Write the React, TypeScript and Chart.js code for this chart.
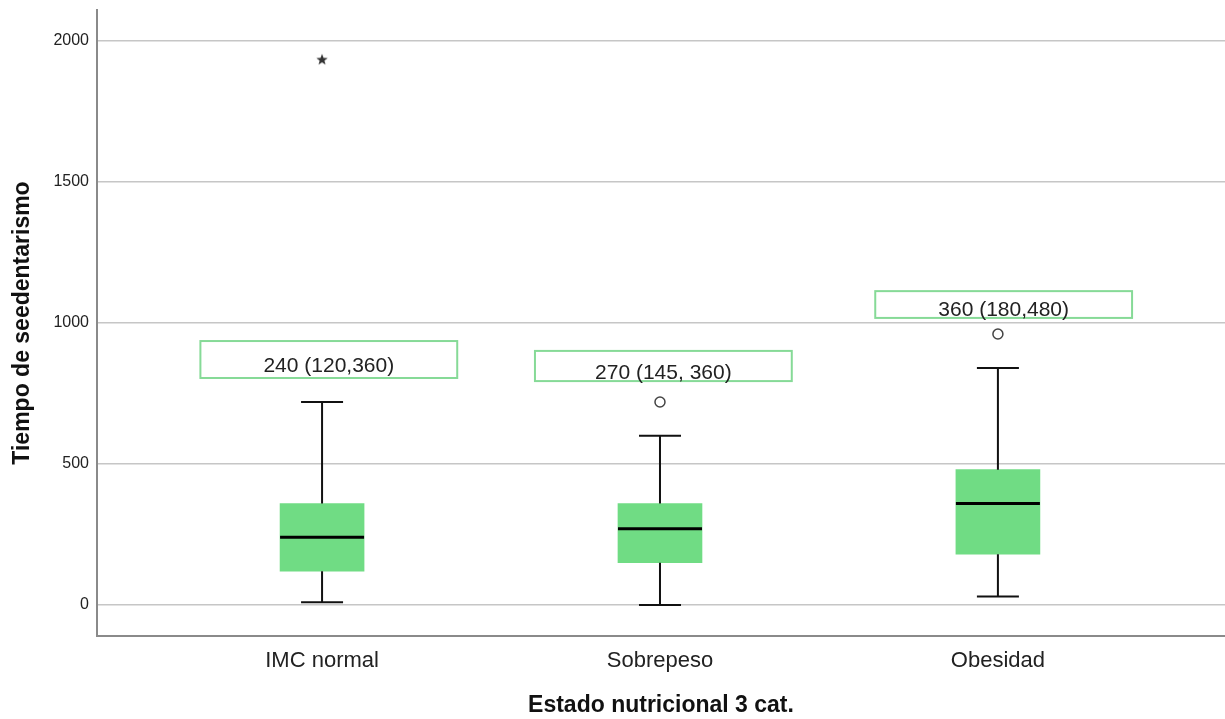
import React, { useEffect, useRef } from 'react';
import { Chart, registerables } from 'chart.js';
Chart.register(...registerables);

const categories = ['IMC normal', 'Sobrepeso', 'Obesidad'];
const q1 = [120, 150, 180];
const median = [240, 270, 360];
const q3 = [360, 360, 480];
const whiskerLow = [10, 0, 30];
const whiskerHigh = [720, 600, 840];
const outlierCat = [1, 2];
const outlierVal = [720, 961];
const extremeCat = [0];
const extremeVal = [1935];
const summaryTexts = ['240 (120,360)', '270 (145, 360)', '360 (180,480)'];
const yTicks = [0, 500, 1000, 1500, 2000];

// annotation box placement (value units)
const summaryLow = [805, 794, 1018];
const summaryHigh = [936, 901, 1113];
const summaryTextY = [848, 822, 1046];

const FONT = '"Liberation Sans", Arial, sans-serif';

function makeStar(): HTMLCanvasElement {
  const c = document.createElement('canvas');
  c.width = 14; c.height = 14;
  const g = c.getContext('2d')!;
  g.fillStyle = '#333';
  g.beginPath();
  for (let i = 0; i < 10; i++) {
    const r = i % 2 === 0 ? 6 : 2.5;
    const a = -Math.PI / 2 + (i * Math.PI) / 5;
    const x = 7 + r * Math.cos(a);
    const y = 7.5 + r * Math.sin(a);
    if (i === 0) g.moveTo(x, y); else g.lineTo(x, y);
  }
  g.closePath();
  g.fill();
  return c;
}

const boxPlugin = {
  id: 'boxExtras',
  afterDatasetsDraw(chart: any) {
    const { ctx, scales } = chart;
    const xs = scales.x, ys = scales.y;
    const half = 42;
    const cap = 21;
    ctx.save();
    ctx.strokeStyle = '#111';
    ctx.lineWidth = 2;
    for (let i = 0; i < categories.length; i++) {
      const cx = xs.getPixelForValue(i);
      ctx.beginPath();
      ctx.moveTo(cx, ys.getPixelForValue(q3[i]));
      ctx.lineTo(cx, ys.getPixelForValue(whiskerHigh[i]));
      ctx.moveTo(cx, ys.getPixelForValue(q1[i]));
      ctx.lineTo(cx, ys.getPixelForValue(whiskerLow[i]));
      ctx.moveTo(cx - cap, ys.getPixelForValue(whiskerHigh[i]));
      ctx.lineTo(cx + cap, ys.getPixelForValue(whiskerHigh[i]));
      ctx.moveTo(cx - cap, ys.getPixelForValue(whiskerLow[i]));
      ctx.lineTo(cx + cap, ys.getPixelForValue(whiskerLow[i]));
      ctx.stroke();
    }
    ctx.lineWidth = 3;
    ctx.strokeStyle = '#000';
    for (let i = 0; i < categories.length; i++) {
      const cx = xs.getPixelForValue(i);
      const my = ys.getPixelForValue(median[i]);
      ctx.beginPath();
      ctx.moveTo(cx - half, my);
      ctx.lineTo(cx + half, my);
      ctx.stroke();
    }
    // summary boxes
    const offsets = [0.02, 0.01, 0.017];
    const w = 0.76;
    for (let i = 0; i < categories.length; i++) {
      const l = xs.getPixelForValue(i + offsets[i] - w / 2);
      const r = xs.getPixelForValue(i + offsets[i] + w / 2);
      const t = ys.getPixelForValue(summaryHigh[i]);
      const b = ys.getPixelForValue(summaryLow[i]);
      ctx.fillStyle = '#fff';
      ctx.fillRect(l, t, r - l, b - t);
      ctx.strokeStyle = '#86da97';
      ctx.lineWidth = 2;
      ctx.strokeRect(l, t, r - l, b - t);
      ctx.fillStyle = '#222';
      ctx.font = `21px ${FONT}`;
      ctx.textAlign = 'center';
      ctx.textBaseline = 'middle';
      ctx.fillText(summaryTexts[i], (l + r) / 2, ys.getPixelForValue(summaryTextY[i]));
    }
    ctx.restore();
  },
};

export default function App() {
  const ref = useRef<HTMLCanvasElement>(null);
  useEffect(() => {
    const canvas = ref.current!;
    const star = makeStar();
    const chart = new Chart(canvas, {
      type: 'bar',
      data: {
        datasets: [
          {
            type: 'bar',
            data: categories.map((_, i) => ({ x: i, y: [q1[i], q3[i]] })) as any,
            backgroundColor: '#70dc84',
            borderWidth: 0,
            barThickness: 84,
            grouped: false,
          } as any,
          {
            type: 'scatter',
            data: outlierCat.map((c, i) => ({ x: c, y: outlierVal[i] })),
            pointStyle: 'circle',
            pointRadius: 5,
            backgroundColor: 'rgba(255,255,255,0)',
            borderColor: '#444',
            borderWidth: 1.5,
          } as any,
          {
            type: 'scatter',
            data: extremeCat.map((c, i) => ({ x: c, y: extremeVal[i] })),
            pointStyle: star,
            pointRadius: 7,
          } as any,
        ],
      },
      options: {
        responsive: false,
        animation: false,
        devicePixelRatio: 1,
        layout: { autoPadding: false, padding: { top: 10, left: 0, right: 0, bottom: 0 } },
        plugins: { legend: { display: false }, tooltip: { enabled: false } },
        scales: {
          x: {
            type: 'linear',
            min: -0.666,
            max: 2.672,
            offset: false,
            afterBuildTicks: (s: any) => { s.ticks = categories.map((_, i) => ({ value: i })); },
            afterFit: (s: any) => {
              s.height = 83;
              s.paddingLeft = 0; s.paddingRight = 0; s.paddingTop = 0; s.paddingBottom = 0;
            },
            ticks: {
              callback: (v: any) => categories[Math.round(v)] ?? '',
              font: { family: FONT, size: 22 },
              color: '#222',
              padding: 12,
              maxRotation: 0,
              autoSkip: false,
            },
            grid: { display: true, drawOnChartArea: false, drawTicks: false },
            border: { display: true, color: '#8a8a8a', width: 2 },
            title: {
              display: true,
              text: 'Estado nutricional 3 cat.',
              font: { family: FONT, size: 23, weight: 'bold' },
              color: '#111',
              padding: { top: 0, bottom: 0 },
            },
          },
          y: {
            type: 'linear',
            min: -110,
            max: 2110,
            afterBuildTicks: (s: any) => { s.ticks = yTicks.map((v) => ({ value: v })); },
            afterFit: (s: any) => {
              s.width = 97;
              s.paddingLeft = 0; s.paddingRight = 0; s.paddingTop = 0; s.paddingBottom = 0;
            },
            ticks: {
              callback: (v: any) => String(v),
              font: { family: FONT, size: 16 },
              color: '#222',
              padding: 8,
            },
            grid: { color: '#c6c6c6', lineWidth: 1.5, drawTicks: false },
            border: { display: true, color: '#8a8a8a', width: 2 },
            title: {
              display: true,
              text: 'Tiempo de seedentarismo',
              font: { family: FONT, size: 23, weight: 'bold' },
              color: '#111',
              padding: { top: 9, bottom: 0 },
            },
          },
        },
      } as any,
      plugins: [boxPlugin],
    });
    return () => chart.destroy();
  }, []);
  return (
    <div style={{ position: 'absolute', left: 0, top: 0, width: 1225, height: 719, background: '#fff' }}>
      <canvas ref={ref} width={1225} height={719} style={{ display: 'block' }} />
    </div>
  );
}
